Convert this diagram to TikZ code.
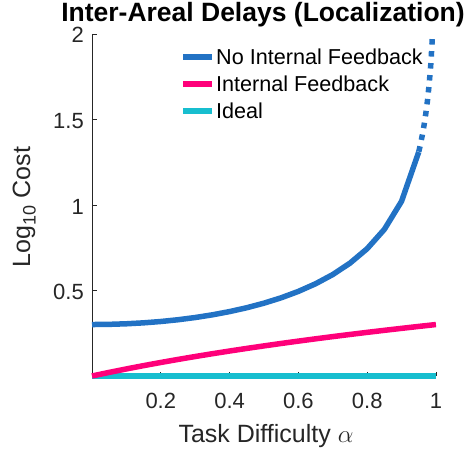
\documentclass[tikz,border=0pt]{standalone}
\usepackage{fontspec}
\setmainfont{Liberation Sans}
\definecolor{cblue}{RGB}{34,114,196}
\definecolor{cpink}{RGB}{255,0,122}
\definecolor{ccyan}{RGB}{23,190,207}
\definecolor{axgray}{RGB}{38,38,38}
\begin{document}
\begin{tikzpicture}[x=1pt,y=1pt,
  curve/.style={line width=5.5pt},
  axisline/.style={draw=axgray,line width=0.9pt},
  ticklab/.style={text=axgray,font=\fontsize{22}{26}\selectfont,inner sep=0pt},
  leglab/.style={text=black,font=\fontsize{21.6}{26}\selectfont,inner sep=0pt,anchor=base west},
  axlab/.style={text=axgray,font=\fontsize{25}{30}\selectfont,inner sep=0pt}]
\useasboundingbox (0,0) rectangle (468,453);
% axes frame
\coordinate (O) at (92,77);
\coordinate (Ytop) at (92,419);
\coordinate (Xend) at (436,77);
\draw[axisline] (Ytop) -- (O) -- (Xend);
\begin{scope}[shift={(92,77)},x=344pt,y=171pt]
  % ticks
  \foreach \v in {0.5,1,1.5,2} \draw[axisline] (0,\v) -- ++(4.5pt,0);
  \foreach \u in {0.2,0.4,0.6,0.8,1} \draw[axisline] (\u,0) -- ++(0,4.5pt);
  \foreach \v in {0.5,1,1.5,2} \node[ticklab,anchor=base east] (yl\v) at ([xshift=-8pt,yshift=-9pt]0,\v) {\v};
  \foreach \u in {0.2,0.4,0.6,0.8} \node[ticklab,anchor=base] (xl\u) at ([yshift=-32pt]\u,0) {\u};
  \node[ticklab,anchor=base] (xl1) at ([yshift=-32pt]1,0) {1};
  % curves
  \draw[curve,ccyan] (0,0) -- (1,0);
  \draw[curve,cpink] plot[domain=0:1,samples=21] (\x,{log10(1+\x)});
  \draw[curve,cblue] plot[domain=0:0.95,samples=20] (\x,{log10(2/(1-\x*\x))});
  \draw[curve,cblue,dash pattern=on 5.5pt off 6.5pt] plot[domain=0.95:0.99,samples=9] (\x,{log10(2/(1-\x*\x))});
\end{scope}
% legend
\coordinate (l1a) at (183,396); \coordinate (l1b) at (212,396);
\coordinate (l2a) at (183,369); \coordinate (l2b) at (212,369);
\coordinate (l3a) at (183,342); \coordinate (l3b) at (212,342);
\draw[curve,cblue] (l1a) -- (l1b);
\draw[curve,cpink] (l2a) -- (l2b);
\draw[curve,ccyan] (l3a) -- (l3b);
\node[leglab] (t1) at ([xshift=4pt,yshift=-7.8pt]l1b) {No Internal Feedback};
\node[leglab] (t2) at ([xshift=4pt,yshift=-7.8pt]l2b) {Internal Feedback};
\node[leglab] (t3) at ([xshift=4pt,yshift=-7.8pt]l3b) {Ideal};
% labels
\node[axlab,anchor=base] (xlab) at (266,11) {Task Difficulty $\alpha$};
\node[axlab,anchor=base,rotate=90] (ylab) at (30,246) {Log\raisebox{-5.5pt}{\fontsize{18}{20}\selectfont 10} Cost};
\node[anchor=base,inner sep=0pt,font=\fontsize{26.5}{30}\selectfont\bfseries] (title) at (263,431) {Inter-Areal Delays (Localization)};
\end{tikzpicture}
\end{document}
